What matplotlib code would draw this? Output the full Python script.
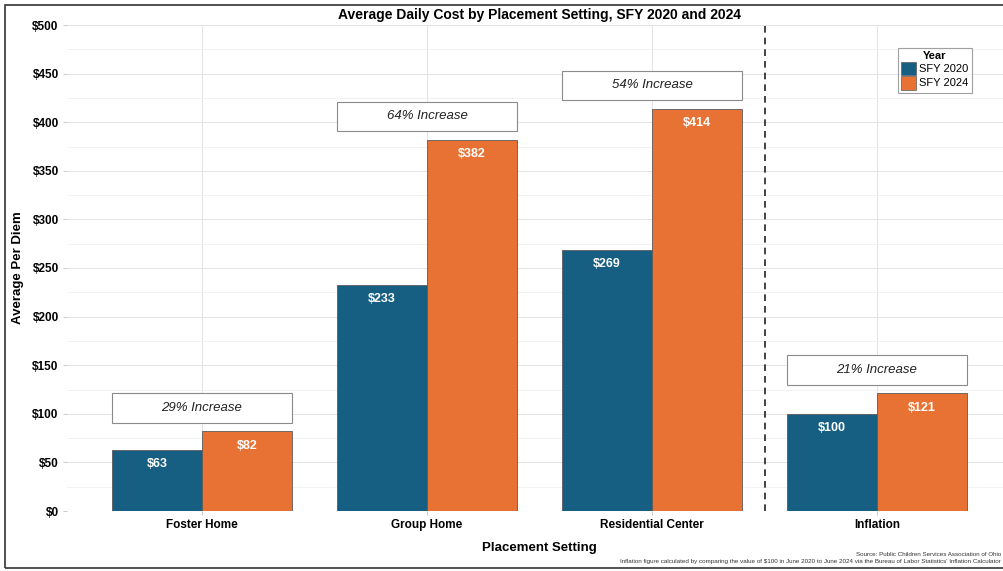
import matplotlib
matplotlib.use('Agg')
import matplotlib.pyplot as plt
from matplotlib.patches import Rectangle, Patch
import numpy as np

plt.rcParams['font.family'] = ['Liberation Sans', 'DejaVu Sans']

settings = ['Foster Home', 'Group Home', 'Residential Center', 'Inflation']
cost_2020 = [63, 233, 269, 100]
cost_2024 = [82, 382, 414, 121]
increase_labels = ['29% Increase', '64% Increase', '54% Increase', '21% Increase']
year_labels = ['SFY 2020', 'SFY 2024']

BLUE = '#175f82'
ORANGE = '#e87233'
EDGE = '#5a5a5a'

W, H = 1004, 571
fig = plt.figure(figsize=(W / 100, H / 100), dpi=100)
# panel runs slightly past the right edge of the canvas
ax = fig.add_axes([67 / W, 1 - 511 / H, (1012 - 67) / W, (511 - 25) / H])

x = np.arange(1, len(settings) + 1)
bw = 0.4
ax.bar(x - bw / 2, cost_2020, width=bw, color=BLUE, edgecolor=EDGE, linewidth=0.6, zorder=3)
ax.bar(x + bw / 2, cost_2024, width=bw, color=ORANGE, edgecolor=EDGE, linewidth=0.6, zorder=3)

for xi, a, b in zip(x, cost_2020, cost_2024):
    ax.text(xi - bw / 2, a - 15, f'${a}', ha='center', va='center', color='white',
            fontsize=9, fontweight='bold', zorder=4)
    ax.text(xi + bw / 2, b - 15, f'${b}', ha='center', va='center', color='white',
            fontsize=9, fontweight='bold', zorder=4)

# percent-change boxes above each pair
for xi, a, b, lab in zip(x, cost_2020, cost_2024, increase_labels):
    top = max(a, b)
    ax.add_patch(Rectangle((xi - 0.4, top + 9), 0.8, 30, facecolor='white',
                           edgecolor='#8a8a8a', linewidth=0.8, zorder=4))
    ax.text(xi, top + 24, lab, ha='center', va='center', fontsize=9.5,
            fontstyle='italic', color='#222222', zorder=5)

ax.axvline(3.5, color='#222222', linestyle=(0, (4, 3)), linewidth=1.2, zorder=4)

ax.set_xlim(0.4, 4.6)
ax.set_ylim(0, 500)
ax.set_yticks(np.arange(0, 501, 50))
ax.set_yticks(np.arange(25, 500, 50), minor=True)
ax.set_yticklabels([f'${v}' for v in range(0, 501, 50)])
ax.set_xticks(x)
ax.set_xticklabels(settings)
ax.grid(True, which='major', color='#e3e3e3', linewidth=0.7, zorder=0)
ax.grid(True, which='minor', axis='y', color='#f0f0f0', linewidth=0.6, zorder=0)
ax.set_axisbelow(True)
for s in ax.spines.values():
    s.set_visible(False)
ax.tick_params(axis='both', which='major', length=3, color='#cccccc', pad=3,
               labelsize=8.5, labelcolor='black')
ax.tick_params(axis='y', which='minor', length=0)
for t in ax.get_xticklabels() + ax.get_yticklabels():
    t.set_fontweight('bold')

ax.set_xlabel('Placement Setting', fontsize=9.5, fontweight='bold', labelpad=8)
ax.set_ylabel('Average Per Diem', fontsize=9.5, fontweight='bold', labelpad=6)
ax.set_title('Average Daily Cost by Placement Setting, SFY 2020 and 2024',
             fontsize=10, fontweight='bold', pad=4)

handles = [Patch(facecolor=BLUE, edgecolor=EDGE, linewidth=0.5),
           Patch(facecolor=ORANGE, edgecolor=EDGE, linewidth=0.5)]
leg = ax.legend(handles, year_labels, title='Year', loc='upper left',
                bbox_to_anchor=((898 - 67) / (1012 - 67), 1 - (48 - 25) / (511 - 25)),
                fontsize=8, title_fontproperties={'weight': 'bold', 'size': 8},
                frameon=True, fancybox=False, edgecolor='#888888',
                handlelength=1.3, handleheight=1.5, handletextpad=0.3,
                borderpad=0.3, labelspacing=0.05, borderaxespad=0)
leg.get_frame().set_linewidth(0.8)

fig.text(1001 / W, 1 - 554 / H, 'Source: Public Children Services Association of Ohio',
         ha='right', va='center', fontsize=4.5, color='#333333')
fig.text(1001 / W, 1 - 562 / H,
         "Inflation figure calculated by comparing the value of $100 in June 2020 to June 2024 "
         "via the Bureau of Labor Statistics' Inflation Calculator",
         ha='right', va='center', fontsize=4.5, color='#333333')

# outer frame around the whole graphic
fig.add_artist(Rectangle((5 / W, 1 - 568 / H), 1.2, (568 - 5) / H, transform=fig.transFigure,
                         facecolor='none', edgecolor='#333333', linewidth=1.2))

fig.savefig('out.png', dpi=100)
